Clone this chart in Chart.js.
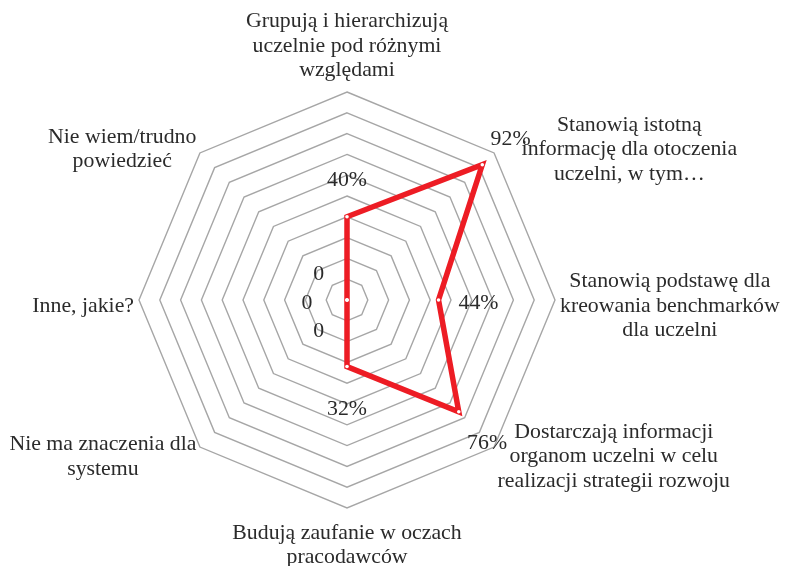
<!DOCTYPE html>
<html>
<head>
<meta charset="utf-8">
<script src="https://cdn.jsdelivr.net/npm/chart.js@4"></script>
<style>
  html, body { margin: 0; padding: 0; background: #fff; }
  #wrap { width: 786px; height: 566px; }
</style>
</head>
<body>
<div id="wrap"><canvas id="myChart" width="786" height="566"></canvas></div>
<script>
// categories, clockwise from the top
const categories = [
  ['Grupują i hierarchizują', 'uczelnie pod różnymi', 'względami'],
  ['Stanowią istotną', 'informację dla otoczenia', 'uczelni, w tym…'],
  ['Stanowią podstawę dla', 'kreowania benchmarków', 'dla uczelni'],
  ['Dostarczają informacji', 'organom uczelni w celu', 'realizacji strategii rozwoju'],
  ['Budują zaufanie w oczach', 'pracodawców'],
  ['Nie ma znaczenia dla', 'systemu'],
  ['Inne, jakie?'],
  ['Nie wiem/trudno', 'powiedzieć']
];
const values = [40, 92, 44, 76, 32, 0, 0, 0];
const valueLabels = ['40%', '92%', '44%', '76%', '32%', '0', '0', '0'];

const FONT = '"Liberation Serif", "Times New Roman", serif';
const FONT_SIZE = 21.8;
const TEXT_COLOR = '#2b2b2b';

// draws centered multi-line axis labels and the value labels
const labelsPlugin = {
  id: 'labelsPlugin',
  afterDraw(chart) {
    const scale = chart.scales.r;
    const ctx = chart.ctx;
    const r = scale.drawingArea;
    const lh = 24.5;
    ctx.save();
    ctx.font = FONT_SIZE + 'px ' + FONT;
    ctx.fillStyle = TEXT_COLOR;
    ctx.textAlign = 'center';
    ctx.textBaseline = 'middle';

    categories.forEach((lines, i) => {
      const angle = scale.getIndexAngle(i) - Math.PI / 2;
      const cos = Math.cos(angle), sin = Math.sin(angle);
      const p = scale.getPointPosition(i, r + 5);
      const w = Math.max(...lines.map(l => ctx.measureText(l).width));
      const h = lines.length * lh;
      let x = p.x, y = p.y;
      if (Math.abs(cos) > 0.01) x = cos > 0 ? p.x + w / 2 : p.x - w / 2;
      // upper right label sits further out, clear of its value label
      if (cos > 0.5 && sin < -0.5) x += 24;
      if (sin > -0.5) y += 6;
      if (Math.abs(sin) > 0.99) y = sin < 0 ? y - 4 - h / 2 : y + 2 + h / 2;
      lines.forEach((line, k) => {
        ctx.fillText(line, x, y - h / 2 + lh / 2 + k * lh);
      });
    });

    valueLabels.forEach((txt, i) => {
      const d = scale.getDistanceFromCenterForValue(values[i]) + 40;
      const p = scale.getPointPosition(i, d);
      ctx.fillText(txt, p.x, p.y + 3);
    });
    ctx.restore();
  }
};

const ctx = document.getElementById('myChart').getContext('2d');
const myChart = new Chart(ctx, {
  type: 'radar',
  data: {
    labels: categories,
    datasets: [{
      data: values,
      borderColor: '#ED1C24',
      backgroundColor: 'rgba(0,0,0,0)',
      borderWidth: 5.5,
      fill: false,
      pointRadius: 1.8,
      pointBorderWidth: 0,
      pointBackgroundColor: '#ffffff',
      tension: 0
    }]
  },
  options: {
    responsive: false,
    animation: false,
    layout: {
      padding: { top: 92, bottom: 58, left: 50, right: 142 }
    },
    plugins: {
      legend: { display: false },
      tooltip: { enabled: false }
    },
    scales: {
      r: {
        min: 0,
        max: 100,
        ticks: { stepSize: 10, display: false },
        grid: { circular: false, color: '#A6A6A6', lineWidth: 1.4 },
        angleLines: { display: false },
        pointLabels: { display: false }
      }
    }
  },
  plugins: [labelsPlugin]
});
</script>
</body>
</html>
